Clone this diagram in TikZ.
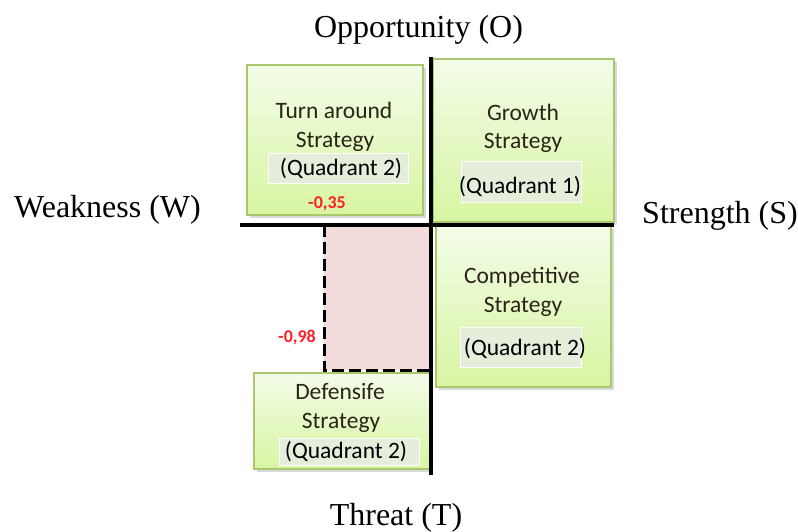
\documentclass[tikz,border=0pt]{standalone}
\usepackage{fontspec}
\setmainfont{Liberation Serif}
\newfontfamily\boxfont{Carlito}
\begin{document}
\begin{tikzpicture}[x=1pt,y=-1pt,
  qbox/.style={rectangle, draw=boxedge, line width=1.2pt, top color=boxtop, bottom color=boxbot, inner sep=0pt},
  qshadow/.style={fill=black, opacity=0.15},
  inbox/.style={rectangle, fill=inner, draw=white, line width=1pt, inner sep=0pt},
  btext/.style={font=\boxfont\fontsize{23.5}{28}\selectfont, text=txt, anchor=base, inner sep=0pt},
  qtext/.style={font=\boxfont\fontsize{23.5}{28}\selectfont, text=black, anchor=base, inner sep=0pt},
  rtext/.style={font=\boxfont\bfseries\fontsize{18}{22}\selectfont, text=redlbl, anchor=base, inner sep=0pt},
  axlabel/.style={font=\fontsize{32}{38}\selectfont, anchor=base, inner sep=0pt},
  axis/.style={line width=4pt, black}
]
\definecolor{boxedge}{HTML}{A9C86E}
\definecolor{boxtop}{HTML}{F3FCE8}
\definecolor{boxbot}{HTML}{D8F5A2}
\definecolor{inner}{HTML}{E4EEDB}
\definecolor{txt}{HTML}{2A2418}
\definecolor{redlbl}{HTML}{FF1E28}
\definecolor{pinkfill}{HTML}{F2DCDB}
\useasboundingbox (0,0) rectangle (798,531);

% shadows
\fill[qshadow] (250,68) rectangle (426,218);
\fill[qshadow] (436,62) rectangle (617,225);
\fill[qshadow] (439,229) rectangle (614,390);
\fill[qshadow] (257,376) rectangle (433,472);

% pink region
\fill[pinkfill] (324,225) rectangle (431,370);

% boxes
\node[qbox, minimum width=176pt, minimum height=150pt] (ta) at (335,140) {};
\node[qbox, minimum width=181pt, minimum height=163pt] (gr) at (523.5,140.5) {};
\node[qbox, minimum width=175pt, minimum height=161pt] (co) at (523.5,306.5) {};
\node[qbox, minimum width=176pt, minimum height=96pt] (de) at (342,421) {};

% inner boxes
\node[inbox, minimum width=140pt, minimum height=30pt] (tai) at (338,168) {};
\node[inbox, minimum width=120pt, minimum height=41pt] (gri) at (521,181.5) {};
\node[inbox, minimum width=121pt, minimum height=40pt] (coi) at (520.5,347) {};
\node[inbox, minimum width=140pt, minimum height=27pt] (dei) at (349,451.5) {};

% texts
\node[btext] (ta1) at (334,118) {Turn around};
\node[btext] (ta2) at (335,147) {Strategy};
\node[qtext] (ta3) at (341,175) {(Quadrant 2)};
\node[btext] (gr1) at (523,120) {Growth};
\node[btext] (gr2) at (523,148) {Strategy};
\node[qtext] (gr3) at (520,193) {(Quadrant 1)};
\node[btext] (co1) at (522,283) {Competitive};
\node[btext] (co2) at (523,312) {Strategy};
\node[qtext] (co3) at (525,355) {(Quadrant 2)};
\node[btext] (de1) at (340,399) {Defensife};
\node[btext] (de2) at (341,428) {Strategy};
\node[qtext] (de3) at (346,458) {(Quadrant 2)};

% red values
\node[rtext] (v1) at (327,208) {-0,35};
\node[rtext] (v2) at (297,342) {-0,98};

% dashed border
\coordinate (dtl) at (324,225);
\coordinate (dbl) at (324,370);
\coordinate (dbr) at (431,370);
\draw[line width=3pt, dash pattern=on 12pt off 5pt] (dtl) -- (dbl) -- (dbr);

% axes
\coordinate (hl) at (240,225);
\coordinate (hr) at (614,225);
\coordinate (vt) at (431,57);
\coordinate (vb) at (431,475);
\draw[axis] (hl) -- (hr);
\draw[axis] (vt) -- (vb);

% axis labels
\node[axlabel] (o) at (418.5,37) {Opportunity (O)};
\node[axlabel] (w) at (107.5,217) {Weakness (W)};
\node[axlabel] (s) at (720,223) {Strength (S)};
\node[axlabel] (t) at (396,525) {Threat (T)};
\end{tikzpicture}
\end{document}
